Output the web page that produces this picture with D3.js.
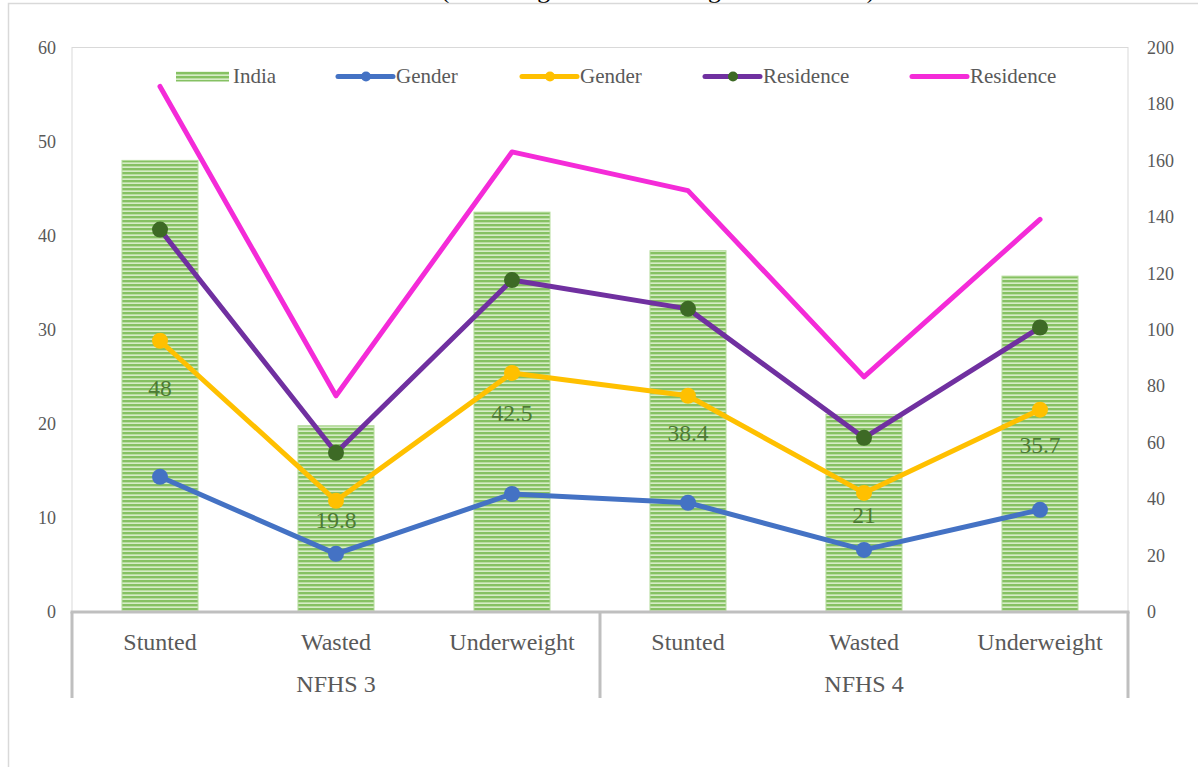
<!DOCTYPE html>
<html>
<head>
<meta charset="utf-8">
<script src="https://cdn.jsdelivr.net/npm/d3@7"></script>
<style>
  html, body { margin: 0; padding: 0; background: #ffffff; }
  svg { display: block; }
  text { font-family: "Liberation Serif", "Times New Roman", serif; }
</style>
</head>
<body>
<svg id="chart" width="1198" height="767"></svg>
<script>
// Survey rounds and the indicators measured in each
const rounds = ["NFHS 3", "NFHS 4"];
const indicators = ["Stunted", "Wasted", "Underweight"];

// All-India prevalence (%), primary axis
const india = [48, 19.8, 42.5, 38.4, 21, 35.7];

// Stacked line series (%), secondary axis
const male   = [47.9, 20.6, 41.8, 38.7, 22.0, 36.2];
const female = [48.2, 18.8, 42.9, 37.9, 20.2, 35.5];
const urban  = [39.4, 17.0, 32.9, 30.8, 19.5, 29.1];
const rural  = [50.7, 20.2, 45.4, 41.9, 21.6, 38.3];

// Axis ticks
const leftTicks = [0, 10, 20, 30, 40, 50, 60];
const rightTicks = [0, 20, 40, 60, 80, 100, 120, 140, 160, 180, 200];

// Legend entries
const legendNames = ["India", "Gender", "Gender", "Residence", "Residence"];

const svg = d3.select("#chart");
const plot = { left: 72, right: 1128, top: 47.5, bottom: 612 };
const textGrey = "#595959";
const serif = '"Liberation Serif", "Times New Roman", serif';

// Rows: one per round/indicator pair
const rows = [];
rounds.forEach((r, ri) => indicators.forEach((c, ci) => {
  const i = ri * indicators.length + ci;
  rows.push({ key: r + "|" + c, round: r, cat: c, india: india[i],
              male: male[i], female: female[i], urban: urban[i], rural: rural[i] });
}));

const x = d3.scaleBand()
  .domain(rows.map(d => d.key))
  .range([plot.left, plot.right])
  .paddingInner(0.568)
  .paddingOuter(0.284);
const cx = k => x(k) + x.bandwidth() / 2;

const yL = d3.scaleLinear().domain([0, 60]).range([plot.bottom, plot.top]);
const yR = d3.scaleLinear().domain([0, 200]).range([plot.bottom, plot.top]);

// Striped fill for the India bars
const defs = svg.append("defs");
const pat = defs.append("pattern")
  .attr("id", "stripes").attr("patternUnits", "userSpaceOnUse")
  .attr("width", 8).attr("height", 4);
pat.append("rect").attr("width", 8).attr("height", 4).attr("fill", "#d6ecc7");
pat.append("rect").attr("y", 0).attr("width", 8).attr("height", 2).attr("fill", "#86c163");
pat.append("rect").attr("y", 2).attr("width", 8).attr("height", 0.8).attr("fill", "#b3da99");

// Title line (runs off the top of the frame)
svg.append("text")
  .attr("x", 441).attr("y", -2.5)
  .attr("font-size", 25.5).attr("fill", "#000")
  .text("(Percentage of Children Aged Under Five)");

// Outer frame
svg.append("path")
  .attr("d", "M8.5,767 V3.5 H1198")
  .attr("fill", "none").attr("stroke", "#d9d9d9").attr("stroke-width", 1.5);

// Plot area border
svg.append("rect")
  .attr("x", plot.left).attr("y", plot.top)
  .attr("width", plot.right - plot.left).attr("height", plot.bottom - plot.top)
  .attr("fill", "none").attr("stroke", "#d9d9d9").attr("stroke-width", 1);

// Left axis
const axL = svg.append("g").attr("transform", `translate(${plot.left},0)`)
  .call(d3.axisLeft(yL).tickValues(leftTicks).tickSize(0).tickPadding(16))
  .attr("font-family", serif).attr("font-size", 18);
axL.select(".domain").remove();
axL.selectAll("text").attr("fill", textGrey);

// Right axis
const axR = svg.append("g").attr("transform", `translate(${plot.right},0)`)
  .call(d3.axisRight(yR).tickValues(rightTicks).tickSize(0).tickPadding(19))
  .attr("font-family", serif).attr("font-size", 18);
axR.select(".domain").remove();
axR.selectAll("text").attr("fill", textGrey);

// Bars
svg.append("g").selectAll("rect").data(rows).join("rect")
  .attr("x", d => x(d.key)).attr("width", x.bandwidth())
  .attr("y", d => yL(d.india)).attr("height", d => yL(0) - yL(d.india))
  .attr("fill", "url(#stripes)")
  .attr("stroke", "#b5dc9c").attr("stroke-width", 1);

// Bar value labels, centred inside each bar
svg.append("g").selectAll("text").data(rows).join("text")
  .attr("x", d => cx(d.key))
  .attr("y", d => (yL(d.india) + yL(0)) / 2)
  .attr("dy", "0.4em")
  .attr("text-anchor", "middle")
  .attr("font-size", 23.5).attr("fill", "#4d7a35")
  .text(d => d.india);

// Stacked line series
const keys = ["male", "female", "urban", "rural"];
const stacked = d3.stack().keys(keys)(rows);
const styles = {
  male:   { color: "#4472c4", marker: "#4472c4" },
  female: { color: "#ffc000", marker: "#ffc000" },
  urban:  { color: "#7030a0", marker: "#3d6a25" },
  rural:  { color: "#f42bd8", marker: null }
};
const line = d3.line().x(d => cx(d.data.key)).y(d => yR(d[1]));

stacked.forEach(s => {
  const st = styles[s.key];
  const g = svg.append("g");
  g.append("path").datum(s).attr("d", line)
    .attr("fill", "none").attr("stroke", st.color).attr("stroke-width", 5)
    .attr("stroke-linejoin", "round").attr("stroke-linecap", "round");
  if (st.marker) {
    g.selectAll("circle").data(s).join("circle")
      .attr("cx", d => cx(d.data.key)).attr("cy", d => yR(d[1]))
      .attr("r", 8).attr("fill", st.marker);
  }
});

// Category axis line and group dividers
const axisColor = "#bfbfbf";
svg.append("line")
  .attr("x1", plot.left - 1.5).attr("x2", plot.right + 1.5)
  .attr("y1", plot.bottom).attr("y2", plot.bottom)
  .attr("stroke", axisColor).attr("stroke-width", 3);
const dividers = [plot.left, (plot.left + plot.right) / 2, plot.right];
svg.append("g").selectAll("line").data(dividers).join("line")
  .attr("x1", d => d).attr("x2", d => d)
  .attr("y1", plot.bottom).attr("y2", 698)
  .attr("stroke", axisColor).attr("stroke-width", 3);

// Category labels
svg.append("g").selectAll("text").data(rows).join("text")
  .attr("x", d => cx(d.key)).attr("y", 650)
  .attr("text-anchor", "middle").attr("font-size", 24).attr("fill", textGrey)
  .text(d => d.cat);

// Round labels, centred under their three indicators
svg.append("g").selectAll("text").data(rounds).join("text")
  .attr("x", (d, i) => (dividers[i] + dividers[i + 1]) / 2).attr("y", 692)
  .attr("text-anchor", "middle").attr("font-size", 24).attr("fill", textGrey)
  .text(d => d);

// Legend
const legendItems = [
  { name: legendNames[0], x: 176, type: "bar" },
  { name: legendNames[1], x: 338, type: "line", color: "#4472c4", marker: "#4472c4" },
  { name: legendNames[2], x: 522, type: "line", color: "#ffc000", marker: "#ffc000" },
  { name: legendNames[3], x: 705, type: "line", color: "#7030a0", marker: "#3d6a25" },
  { name: legendNames[4], x: 912, type: "line", color: "#f42bd8", marker: null }
];
const ly = 76.5;
const lg = svg.append("g");
legendItems.forEach(it => {
  if (it.type === "bar") {
    lg.append("rect").attr("x", it.x).attr("y", ly - 5).attr("width", 53).attr("height", 10)
      .attr("fill", "url(#stripes)");
    lg.append("text").attr("x", it.x + 57).attr("y", ly).attr("dy", "0.33em")
      .attr("font-size", 21).attr("fill", textGrey).text(it.name);
  } else {
    lg.append("line").attr("x1", it.x).attr("x2", it.x + 55)
      .attr("y1", ly).attr("y2", ly)
      .attr("stroke", it.color).attr("stroke-width", 5).attr("stroke-linecap", "round");
    if (it.marker) {
      lg.append("circle").attr("cx", it.x + 28).attr("cy", ly).attr("r", 5).attr("fill", it.marker);
    }
    lg.append("text").attr("x", it.x + 58).attr("y", ly).attr("dy", "0.33em")
      .attr("font-size", 21).attr("fill", textGrey).text(it.name);
  }
});
</script>
</body>
</html>
